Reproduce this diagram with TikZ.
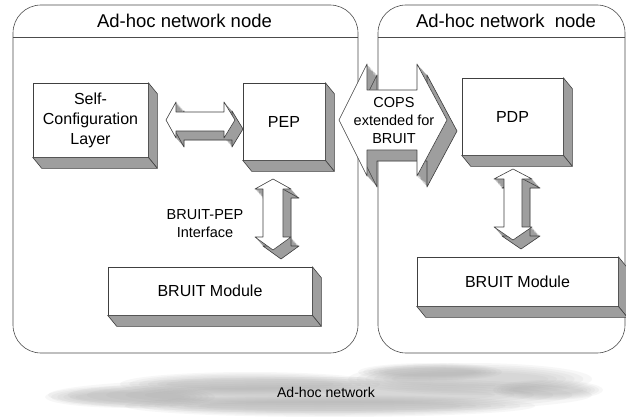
\documentclass[tikz,border=0pt]{standalone}
\usepackage{fontspec}
\setmainfont{Liberation Sans}
\usetikzlibrary{calc}
\tikzset{
  ln/.style={draw=black!75, line width=0.6pt, line join=round},
  side/.style={ln, fill=black!38},
  front/.style={ln, fill=white},
  cont/.style={draw=black!70, line width=0.6pt, rounded corners=28pt},
  boxnode/.style={front, inner sep=0pt, align=center, font=\fontsize{16}{20}\selectfont},
  titletext/.style={inner sep=0pt, font=\fontsize{18.5}{22}\selectfont},
  labeltext/.style={inner sep=0pt, align=center, font=\fontsize{14.5}{18}\selectfont},
  cloudpart/.style={fill=black!40, fill opacity=0.075, draw=none}
}
\newcommand\boxsides[1]{%
  \filldraw[side] (#1.north east) -- ++(9,11) -- ([shift={(9,11)}]#1.south east) -- (#1.south east) -- cycle;
  \filldraw[side] (#1.south west) -- ++(9,11) -- ([shift={(9,11)}]#1.south east) -- (#1.south east) -- cycle;}
\newcommand\copsarrow[1]{\path[#1] (339,120) -- (367,64) -- (367,90) -- (417,90) -- (417,64) -- (447,120) -- (417,176) -- (417,150) -- (367,150) -- (367,176) -- cycle;}
\newcommand\harrow[1]{\path[#1] (166,120) -- (176,102) -- (176,112) -- (224,112) -- (224,102) -- (235,120) -- (224,138) -- (224,131) -- (176,131) -- (176,138) -- cycle;}
\newcommand\vlarrow[1]{\path[#1] (273,179) -- (291,189) -- (283,189) -- (283,237) -- (291,237) -- (273,250) -- (255,237) -- (263,237) -- (263,189) -- (255,189) -- cycle;}
\newcommand\vrarrow[1]{\path[#1] (513,169) -- (532,179) -- (522,179) -- (522,227) -- (532,227) -- (513,240) -- (494,227) -- (504,227) -- (504,179) -- (494,179) -- cycle;}
\newcommand\extrude[3]{%
  \foreach \s in {1,...,12} { #1{fill=black!38, shift={({#2*\s/12},{#3*\s/12})}} }
  #1{side, shift={(#2,#3)}}
  #1{front}}
\newcommand\cloudblob[4]{%
  \foreach \k in {0,...,5} {
    \fill[cloudpart] (#1,#2) ellipse [x radius={#3-\k*#3/14}, y radius={#4-\k*#4/9}];
  }}
\begin{document}
\begin{tikzpicture}[x=1pt, y=-1pt]
\useasboundingbox (0,0) rectangle (626,417);
\fill[white] (0,0) rectangle (626,417);
% containers
\draw[cont] (13,353) -- (13,5) -- (358,5) -- (358,353) -- cycle;
\draw[draw=black!70, line width=0.6pt] (13,37) -- (358,37);
\draw[cont] (378,353) -- (378,5) -- (625,5) -- (625,353) -- cycle;
\draw[draw=black!70, line width=0.6pt] (378,37) -- (625,37);
\node[titletext] (t1) at (184.5,21) {Ad-hoc network node};
\node[titletext] (t2) at (506,21) {Ad-hoc network\ \ node};
% boxes
\node[boxnode, minimum width=115, minimum height=74] (self) at (90.5,120) {Self-\\Configuration\\Layer};
\boxsides{self}
\node[boxnode, minimum width=82, minimum height=77] (pep) at (284,121.5) {PEP};
\boxsides{pep}
\node[boxnode, minimum width=101, minimum height=77] (pdp) at (512.5,116.5) {PDP};
\boxsides{pdp}
\node[boxnode, minimum width=204, minimum height=48] (bm1) at (210,291) {BRUIT Module};
\boxsides{bm1}
\node[boxnode, minimum width=201, minimum height=49] (bm2) at (517.5,281.5) {BRUIT Module};
\boxsides{bm2}
% block arrows
\extrude{\harrow}{8}{9}
\extrude{\vlarrow}{8}{9}
\extrude{\vrarrow}{8}{9}
\extrude{\copsarrow}{10}{11}
\node[labeltext] (cops) at (394,121) {COPS\\extended for\\BRUIT};
\node[labeltext] (bpi) at (205,224) {BRUIT-PEP\\Interface};
% cloud
\cloudblob{320}{395}{272}{18}
\cloudblob{470}{379}{122}{16}
\cloudblob{250}{384}{130}{12}
\cloudblob{130}{397}{85}{11}
\cloudblob{330}{406}{205}{11}
\cloudblob{548}{390}{55}{10}
\cloudblob{430}{372}{72}{9}
\node[labeltext, font=\fontsize{14.1}{17}\selectfont] (net) at (326,392) {Ad-hoc network};
\end{tikzpicture}
\end{document}
